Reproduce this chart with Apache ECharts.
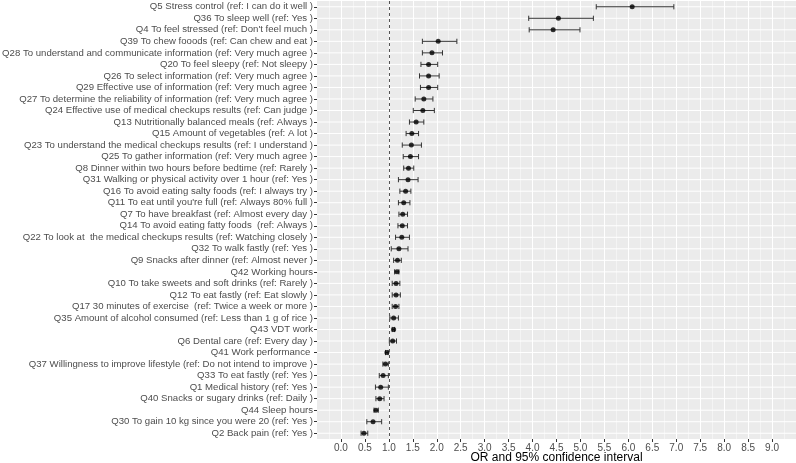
<!DOCTYPE html>
<html>
<head>
<meta charset="utf-8">
<script src="https://cdn.jsdelivr.net/npm/echarts@6/dist/echarts.min.js"></script>
<style>
  html, body { margin: 0; padding: 0; background: #fff; }
  #forest { width: 796px; height: 463px; }
</style>
</head>
<body>
<div id="forest"></div>
<script>
// items, top to bottom
var items = [
    'Q5 Stress control (ref: I can do it well )',
    'Q36 To sleep well (ref: Yes )',
    "Q4 To feel stressed (ref: Don't feel much )",
    'Q39 To chew fooods (ref: Can chew and eat )',
    'Q28 To understand and communicate information (ref: Very much agree )',
    'Q20 To feel sleepy (ref: Not sleepy )',
    'Q26 To select information (ref: Very much agree )',
    'Q29 Effective use of information (ref: Very much agree )',
    'Q27 To determine the reliability of information (ref: Very much agree )',
    'Q24 Effective use of medical checkups results (ref: Can judge )',
    'Q13 Nutritionally balanced meals (ref: Always )',
    'Q15 Amount of vegetables (ref: A lot )',
    'Q23 To understand the medical checkups results (ref: I understand )',
    'Q25 To gather information (ref: Very much agree )',
    'Q8 Dinner within two hours before bedtime (ref: Rarely )',
    'Q31 Walking or physical activity over 1 hour (ref: Yes )',
    'Q16 To avoid eating salty foods (ref: I always try )',
    "Q11 To eat until you're full (ref: Always 80% full )",
    'Q7 To have breakfast (ref: Almost every day )',
    'Q14 To avoid eating fatty foods  (ref: Always )',
    'Q22 To look at  the medical checkups results (ref: Watching closely )',
    'Q32 To walk fastly (ref: Yes )',
    'Q9 Snacks after dinner (ref: Almost never )',
    'Q42 Working hours',
    'Q10 To take sweets and soft drinks (ref: Rarely )',
    'Q12 To eat fastly (ref: Eat slowly )',
    'Q17 30 minutes of exercise  (ref: Twice a week or more )',
    'Q35 Amount of alcohol consumed (ref: Less than 1 g of rice )',
    'Q43 VDT work',
    'Q6 Dental care (ref: Every day )',
    'Q41 Work performance ',
    'Q37 Willingness to improve lifestyle (ref: Do not intend to improve )',
    'Q33 To eat fastly (ref: Yes )',
    'Q1 Medical history (ref: Yes )',
    'Q40 Snacks or sugary drinks (ref: Daily )',
    'Q44 Sleep hours',
    'Q30 To gain 10 kg since you were 20 (ref: Yes )',
    'Q2 Back pain (ref: Yes )'
];

var oddsRatio = [6.08, 4.54, 4.43, 2.03, 1.90, 1.83, 1.83, 1.83, 1.73, 1.71,
    1.57, 1.48, 1.47, 1.45, 1.41, 1.40, 1.35, 1.31, 1.29, 1.28,
    1.27, 1.21, 1.18, 1.17, 1.15, 1.15, 1.14, 1.10, 1.10, 1.08,
    0.96, 0.93, 0.88, 0.83, 0.81, 0.73, 0.67, 0.48];

var ciLow = [5.33, 3.92, 3.93, 1.70, 1.70, 1.67, 1.64, 1.66, 1.55, 1.51,
    1.43, 1.36, 1.28, 1.30, 1.31, 1.20, 1.23, 1.20, 1.21, 1.19,
    1.14, 1.05, 1.10, 1.12, 1.07, 1.07, 1.07, 1.02, 1.07, 1.01,
    0.93, 0.875, 0.80, 0.72, 0.73, 0.69, 0.54, 0.42];

var ciHigh = [6.95, 5.27, 4.99, 2.42, 2.12, 2.02, 2.05, 2.02, 1.92, 1.95,
    1.73, 1.62, 1.68, 1.62, 1.52, 1.61, 1.46, 1.44, 1.39, 1.39,
    1.43, 1.40, 1.26, 1.21, 1.23, 1.24, 1.21, 1.20, 1.12, 1.16,
    0.985, 0.99, 0.99, 0.99, 0.90, 0.78, 0.85, 0.56];

var xTicks = [0, 0.5, 1, 1.5, 2, 2.5, 3, 3.5, 4, 4.5, 5, 5.5, 6, 6.5, 7, 7.5, 8, 8.5, 9];

var xMin = -0.5, xMax = 9.5;

var pointData = items.map(function (name, i) { return [oddsRatio[i], name]; });
var barData = items.map(function (name, i) { return [ciLow[i], ciHigh[i], name]; });
var rowLines = items.map(function (name) { return [xMin, xMax, name]; });

var chart = echarts.init(document.getElementById('forest'));

// horizontal error bar with end caps
function drawBar(params, api) {
    var y = api.value(2);
    var a = api.coord([api.value(0), y]);
    var b = api.coord([api.value(1), y]);
    var h = 2.6;
    var st = { stroke: '#333', lineWidth: 1 };
    return {
        type: 'group',
        children: [
            { type: 'line', shape: { x1: a[0], y1: a[1], x2: b[0], y2: b[1] }, style: st },
            { type: 'line', shape: { x1: a[0], y1: a[1] - h, x2: a[0], y2: a[1] + h }, style: st },
            { type: 'line', shape: { x1: b[0], y1: b[1] - h, x2: b[0], y2: b[1] + h }, style: st }
        ]
    };
}

// white grid line through each row
function drawRowLine(params, api) {
    var y = api.value(2);
    var a = api.coord([api.value(0), y]);
    var b = api.coord([api.value(1), y]);
    return {
        type: 'line',
        shape: { x1: a[0], y1: a[1], x2: b[0], y2: b[1] },
        style: { stroke: '#fff', lineWidth: 1 }
    };
}

var option = {
    animation: false,
    textStyle: { fontFamily: 'Liberation Sans' },
    grid: {
        left: 317, right: 0, top: 1, height: 438,
        outerBoundsMode: 'none',
        containLabel: false,
        show: true, backgroundColor: '#EBEBEB', borderWidth: 0
    },
    xAxis: {
        type: 'value',
        min: xMin, max: xMax, interval: 0.5,
        name: 'OR and 95% confidence interval',
        nameLocation: 'middle',
        nameGap: 13,
        nameMoveOverlap: false,
        nameTextStyle: { color: '#000', fontSize: 12, fontFamily: 'Liberation Sans' },
        axisLine: { show: false, onZero: false },
        axisTick: { show: true, length: 3, customValues: xTicks, lineStyle: { color: '#333' } },
        axisLabel: {
            customValues: xTicks, margin: 4, color: '#4d4d4d', fontSize: 10,
            formatter: function (v) { return v.toFixed(1); }
        },
        splitLine: { show: true, lineStyle: { color: '#fff', width: 1 } },
        minorTick: { show: false, splitNumber: 2 },
        minorSplitLine: { show: true, lineStyle: { color: '#F4F4F4', width: 1 } }
    },
    yAxis: {
        type: 'category',
        data: items,
        inverse: true,
        axisLine: { show: false, onZero: false },
        axisTick: { show: true, alignWithLabel: true, length: 3, lineStyle: { color: '#333' } },
        axisLabel: { color: '#4d4d4d', fontSize: 9.6, margin: 4, interval: 0 },
        splitLine: { show: false }
    },
    series: [
        {
            type: 'custom',
            silent: true,
            data: rowLines,
            encode: { x: [0, 1], y: 2 },
            renderItem: drawRowLine,
            z: 1
        },
        {
            type: 'custom',
            data: barData,
            encode: { x: [0, 1], y: 2 },
            renderItem: drawBar,
            z: 3
        },
        {
            type: 'scatter',
            data: pointData,
            symbol: 'circle',
            symbolSize: 5,
            itemStyle: { color: '#000' },
            z: 4,
            markLine: {
                silent: true,
                symbol: 'none',
                label: { show: false },
                lineStyle: { color: '#555', type: [3, 3], width: 1 },
                data: [{ xAxis: 1 }]
            }
        }
    ]
};

chart.setOption(option);
</script>
</body>
</html>
